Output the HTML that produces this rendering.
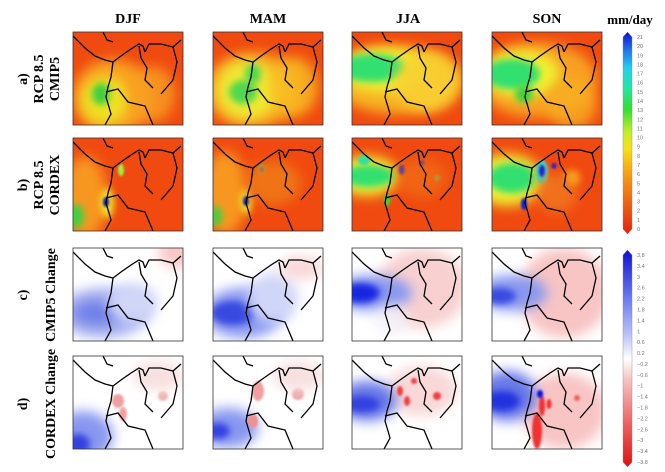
<!DOCTYPE html>
<html><head><meta charset="utf-8">
<style>
body{margin:0;background:#fff;width:665px;height:472px;overflow:hidden;font-family:"Liberation Serif",serif;}
svg{position:absolute;left:0;top:0}
</style></head>
<body>
<svg id="fig" width="665" height="472" viewBox="0 0 665 472" xmlns="http://www.w3.org/2000/svg">
<defs>
<filter id="b6" x="-50%" y="-50%" width="200%" height="200%"><feGaussianBlur stdDeviation="6"/></filter>
<filter id="b4" x="-50%" y="-50%" width="200%" height="200%"><feGaussianBlur stdDeviation="3.5"/></filter>
<filter id="b1" x="-50%" y="-50%" width="200%" height="200%"><feGaussianBlur stdDeviation="1"/></filter>
<clipPath id="pc"><rect x="0" y="0" width="110" height="93"/></clipPath>
<linearGradient id="cb1" x1="0" y1="1" x2="0" y2="0">
<stop offset="0" stop-color="#e8200a"/><stop offset="0.15" stop-color="#f06010"/><stop offset="0.3" stop-color="#f8a010"/><stop offset="0.42" stop-color="#f8e010"/><stop offset="0.5" stop-color="#c8f020"/><stop offset="0.62" stop-color="#30e030"/><stop offset="0.72" stop-color="#20e8a0"/><stop offset="0.82" stop-color="#20d0f0"/><stop offset="0.9" stop-color="#2080f0"/><stop offset="1" stop-color="#1010d0"/></linearGradient>
<linearGradient id="cb2" x1="0" y1="1" x2="0" y2="0">
<stop offset="0" stop-color="#e01010"/><stop offset="0.2" stop-color="#f06060"/><stop offset="0.4" stop-color="#f8c0c0"/><stop offset="0.5" stop-color="#ffffff"/><stop offset="0.6" stop-color="#c0c8f8"/><stop offset="0.8" stop-color="#6070f0"/><stop offset="1" stop-color="#1010d0"/></linearGradient>
</defs>
<g id="panels"></g>
<g font-weight="bold" font-size="14" text-anchor="middle" fill="#000">
<text x="128" y="23">DJF</text>
<text x="268" y="23">MAM</text>
<text x="408" y="23">JJA</text>
<text x="547" y="23">SON</text>
<text x="630" y="24" font-size="13">mm/day</text>
</g>
<g font-weight="bold" font-size="14" text-anchor="middle" fill="#000">
<text transform="translate(27,79) rotate(-90)">a)</text>
<text transform="translate(43,79) rotate(-90)">RCP 8.5</text>
<text transform="translate(59,79) rotate(-90)">CMIP5</text>
<text transform="translate(27,185) rotate(-90)">b)</text>
<text transform="translate(43,185) rotate(-90)">RCP 8.5</text>
<text transform="translate(59,185) rotate(-90)">CORDEX</text>
<text transform="translate(27,295) rotate(-90)">c)</text>
<text transform="translate(55,295) rotate(-90)">CMIP5 Change</text>
<text transform="translate(27,404) rotate(-90)">d)</text>
<text transform="translate(55,404) rotate(-90)">CORDEX Change</text>
</g>
<g id="cbars"></g>
</svg>
<script>
const NS="http://www.w3.org/2000/svg";
const colX=[73,213,352,492];
const rowY=[32,138,248,356];
const panelW=110, panelH=93;
const bgColors=["#f04a10","#f04a10","#ffffff","#ffffff"];
// blobs: [cx,cy,rx,ry,color,opacity,blur]
const fields=[
 [
  [[40,65,40,38,"#f8a020",1,6],[32,68,24,24,"#f0e020",1,6],[28,62,9,11,"#40d040",1,4],[80,62,22,28,"#f8a020",0.8,6]],
  [[40,58,48,38,"#f8a020",1,6],[35,58,32,30,"#f0e830",1,6],[30,60,14,12,"#50d850",1,4],[40,42,8,10,"#50d850",1,4],[80,55,25,30,"#f8c020",0.8,6]],
  [[45,48,65,34,"#f8b020",1,6],[32,38,45,22,"#f0f030",1,6],[20,36,34,14,"#30e070",1,4],[75,50,32,30,"#f8d030",0.9,6]],
  [[45,48,60,38,"#f8a020",1,6],[30,42,38,24,"#f0f030",1,6],[20,42,28,15,"#30e070",1,4],[32,62,9,9,"#40d040",1,4],[80,72,25,25,"#f8b020",0.8,6]]
 ],
 [
  [[12,60,22,42,"#f8a020",0.9,6],[34,65,7,15,"#f0e020",1,4],[33,64,3,5,"#1020e0",1,1],[48,32,3,6,"#a0f040",1,1],[3,78,8,12,"#40d040",1,4]],
  [[12,55,22,42,"#f8a020",0.9,6],[33,63,6,13,"#f0e020",1,4],[33,63,3,5,"#1020e0",1,1],[49,32,4,6,"#40d060",1,1],[49,32,2,3,"#1020e0",1,1],[60,45,28,22,"#f07818",0.9,6],[3,78,6,10,"#40d040",1,4]],
  [[15,38,32,20,"#f0f030",1,6],[16,38,26,11,"#30e070",1,4],[12,22,6,5,"#30e0a0",1,1],[50,32,3,5,"#1020e0",1,1],[70,25,2.5,3,"#1020e0",1,1],[85,40,3,3,"#40e080",1,1],[35,62,3,6,"#40d040",1,1],[70,40,25,20,"#f07018",0.7,6]],
  [[15,42,36,26,"#f0f030",1,6],[20,40,24,15,"#30e070",1,4],[50,34,6,12,"#40d0c0",1,1],[50,33,3,6,"#1020e0",1,1],[62,28,2.5,3,"#1020e0",1,1],[32,66,3,6,"#1020e0",1,1],[80,40,8,8,"#f8c020",0.8,4],[65,55,20,20,"#f08020",0.7,6]]
 ],
 [
  [[30,65,45,25,"#a8b0f0",1,6],[25,65,25,12,"#7080e8",1,6],[60,55,25,20,"#d0d6f8",1,6],[105,5,20,15,"#f8c8c8",1,6]],
  [[30,65,40,25,"#8898f0",1,6],[20,65,22,12,"#3848e0",1,4],[60,50,25,25,"#d0d6f8",1,6],[88,20,22,12,"#f8d8d8",1,6]],
  [[70,40,45,40,"#f8d0d0",1,6],[20,45,40,18,"#8898f0",1,6],[8,45,20,10,"#1828e0",1,4],[40,72,18,15,"#f0f0f8",0.8,6]],
  [[72,45,45,45,"#f8c4c4",1,6],[20,45,35,18,"#8898f0",1,6],[8,48,16,8,"#3848e0",1,4]]
 ],
 [
  [[10,80,30,25,"#8898f0",1,6],[5,88,12,10,"#3040e0",1,4],[45,45,6,7,"#f0a0a0",1,1],[50,58,4,7,"#f0a0a0",1,1],[90,40,5,5,"#f0b0b0",1,1],[85,20,25,15,"#f8e0e0",1,6]],
  [[15,72,30,20,"#8898f0",1,6],[5,75,12,8,"#3040e0",1,4],[45,35,6,10,"#f0a0a0",1,1],[40,65,5,7,"#f09090",1,1],[85,38,6,6,"#f0a0a0",1,1],[85,20,25,15,"#f8e0e0",1,6]],
  [[70,35,35,25,"#f8d8d8",1,6],[15,45,30,20,"#6878e8",1,6],[10,48,18,8,"#3040e0",1,4],[48,35,3,5,"#f04040",1,1],[55,45,3,5,"#f04040",1,1],[62,25,3,3,"#f04040",1,1],[85,40,4,4,"#f04040",1,1]],
  [[72,55,42,38,"#f8c4c4",1,6],[15,40,30,25,"#6878e8",1,6],[10,45,18,10,"#2030e0",1,4],[45,75,5,18,"#f03030",1,1],[50,50,3,10,"#f03030",1,1],[57,48,2.5,5,"#f03030",1,1],[48,38,3,4,"#1010e0",1,1],[85,42,3,3,"#f06060",1,1]]
 ]
];
const coast=["M0,4 L12,16 L22,24 L32,28 L40,30","M40,30 L48,24 L58,17 L66,12 L70,14 L72,20","M72,20 L76,12 L88,12 L100,15 L108,8","M40,30 L38,45 L35,55 L33,65 L36,75 L38,82 L32,93","M66,14 L68,26 L74,36 L72,48 L80,56","M33,60 L45,57 L55,70 L72,74 L80,93","M100,15 L104,30 L100,48 L94,55 L88,62","M30,0 L34,8 L40,10"];
const pg=document.getElementById('panels');
for(let r=0;r<4;r++){for(let c=0;c<4;c++){
 const g=document.createElementNS(NS,'g');
 
 
 g.setAttribute('transform','translate('+colX[c]+','+rowY[r]+')');
 const inner=document.createElementNS(NS,'g');inner.setAttribute('clip-path','url(#pc)');
 const bg=document.createElementNS(NS,'rect');bg.setAttribute('width',panelW);bg.setAttribute('height',panelH);bg.setAttribute('fill',bgColors[r]);inner.appendChild(bg);
 fields[r][c].forEach(b=>{const e=document.createElementNS(NS,'ellipse');
  e.setAttribute('cx',b[0]);e.setAttribute('cy',b[1]);e.setAttribute('rx',b[2]);e.setAttribute('ry',b[3]);
  e.setAttribute('fill',b[4]);e.setAttribute('opacity',b[5]);e.setAttribute('filter','url(#b'+b[6]+')');inner.appendChild(e);});
 coast.forEach(d=>{const p=document.createElementNS(NS,'path');p.setAttribute('d',d);p.setAttribute('fill','none');p.setAttribute('stroke','#000');p.setAttribute('stroke-width','1.3');inner.appendChild(p);});
 g.appendChild(inner);
 const fr=document.createElementNS(NS,'rect');fr.setAttribute('width',panelW);fr.setAttribute('height',panelH);fr.setAttribute('fill','none');fr.setAttribute('stroke','#333');fr.setAttribute('stroke-width','0.8');g.appendChild(fr);
 pg.appendChild(g);
}}
const cb1Labels=["21","20","19","18","17","16","15","14","13","12","11","10","9","8","7","6","5","4","3","2","1","0"];
const cb2Labels=["3.8","3.4","3","2.6","2.2","1.8","1.4","1","0.6","0.2","−0.2","−0.6","−1","−1.4","−1.8","−2.2","−2.6","−3","−3.4","−3.8"];
const cbg=document.getElementById('cbars');
function cbar(y0,y1,grad,labels,name){
 const g=document.createElementNS(NS,'g');
 
 
 const x0=623,w=9;
 const p=document.createElementNS(NS,'path');
 p.setAttribute('d','M'+(x0+w/2)+','+(y0-5)+' L'+(x0+w)+','+y0+' L'+(x0+w)+','+y1+' L'+(x0+w/2)+','+(y1+5)+' L'+x0+','+y1+' L'+x0+','+y0+' Z');
 p.setAttribute('fill','url(#'+grad+')');p.setAttribute('stroke','#888');p.setAttribute('stroke-width','0.4');g.appendChild(p);
 const n=labels.length;
 labels.forEach((l,i)=>{const t=document.createElementNS(NS,'text');
  t.setAttribute('x',x0+14);t.setAttribute('y',y0+(y1-y0)*i/(n-1)+2);
  t.setAttribute('font-size','5.5');t.setAttribute('fill','#777');t.setAttribute('font-family','Liberation Sans, sans-serif');
  t.textContent=l;g.appendChild(t);});
 cbg.appendChild(g);
}
cbar(37,229,'cb1',cb1Labels,'colorbar-precip');
cbar(255,462,'cb2',cb2Labels,'colorbar-change');
</script>
</body></html>
